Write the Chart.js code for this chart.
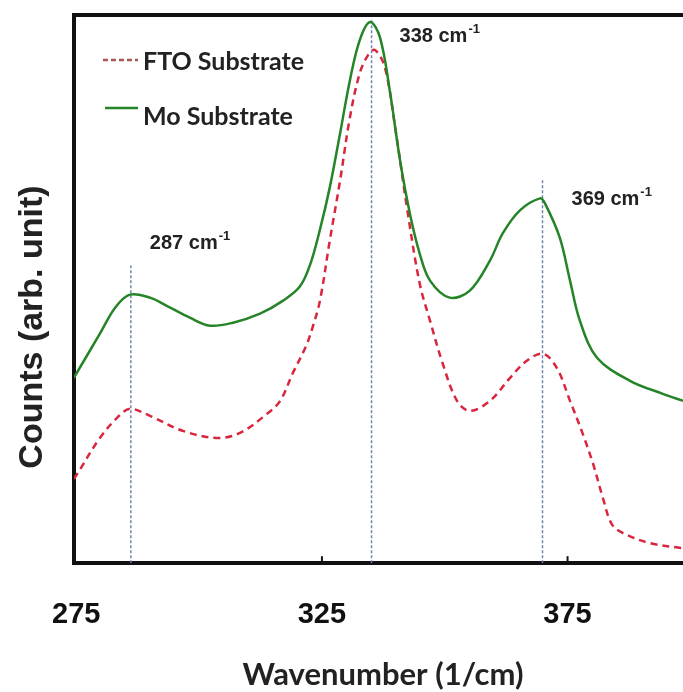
<!DOCTYPE html>
<html>
<head>
<meta charset="utf-8">
<script src="https://cdn.jsdelivr.net/npm/chart.js@4.4.1/dist/chart.umd.min.js"></script>
<style>
  html, body { margin: 0; padding: 0; background: #fff; }
  #wrap { width: 683px; height: 692px; position: relative; }
</style>
</head>
<body>
<div id="wrap"><canvas id="ramanChart"></canvas></div>
<script>
// Raman spectra, values (counts in arb. units)
const moWave = [274.5, 279.8, 282.9, 285.9, 290.0, 294.1, 298.1, 302.2, 306.9, 312.4, 317.1, 320.5, 322.6, 324.6, 326.6, 328.7, 330.7, 332.7, 334.8, 336.8, 338.8, 340.9, 342.9, 344.9, 347.0, 351.0, 355.1, 359.2, 361.8, 365.3, 369.4, 370.4, 373.4, 375.5, 377.5, 381.0, 387.7, 394.4, 398.5];
const moCounts = [185, 229, 255, 268, 265, 255, 245, 237, 240, 249, 262, 276, 298, 333, 375, 429, 482, 522, 540, 525, 472, 402, 349, 309, 282, 265, 272, 302, 329, 352, 364, 359, 325, 282, 242, 205, 182, 169, 162];

const ftoWave = [274.5, 275.3, 279.8, 283.3, 285.9, 290.0, 296.7, 303.6, 308.3, 313.8, 316.5, 319.1, 321.8, 323.2, 324.6, 326.6, 328.7, 330.7, 332.7, 334.4, 335.8, 337.8, 339.9, 342.3, 344.9, 347.0, 349.6, 352.5, 355.1, 359.2, 363.3, 366.7, 370.0, 372.8, 375.5, 378.1, 380.2, 382.2, 384.0, 386.3, 391.8, 398.5];
const ftoCounts = [84, 90, 125, 145, 154, 147, 132, 125, 130, 149, 162, 190, 217, 237, 262, 322, 382, 445, 489, 507, 512, 495, 435, 355, 279, 242, 199, 162, 152, 162, 185, 202, 209, 195, 162, 129, 99, 65, 39, 30, 20, 15];

// peak markers
const peakWave = [286.1, 335.1, 369.9];
const peakTop = [297, 544, 384];
const peakLabels = ['287 cm', '338 cm', '369 cm'];

const xTicks = [275, 325, 375];
const seriesNames = ['FTO Substrate', 'Mo Substrate'];

const redColor = 'rgb(215,38,62)';
const greenColor = 'rgb(38,132,40)';
const peakColor = 'rgba(105,128,168,0.95)';

function toPoints(xs, ys) {
    return xs.map((v, i) => ({x: v, y: ys[i]}));
}

let datasets = [
    {
        label: seriesNames[1],
        data: toPoints(moWave, moCounts),
        borderColor: greenColor,
        borderWidth: 2.5,
        pointRadius: 0,
        tension: 0.35
    },
    {
        label: seriesNames[0],
        data: toPoints(ftoWave, ftoCounts),
        borderColor: redColor,
        borderWidth: 2.5,
        borderDash: [7, 5],
        pointRadius: 0,
        tension: 0.35
    }
];
peakWave.forEach((w, i) => {
    datasets.push({
        label: 'peak' + i,
        data: [{x: w, y: 0}, {x: w, y: peakTop[i]}],
        borderColor: peakColor,
        borderWidth: 1.5,
        borderDash: [3, 2],
        pointRadius: 0
    });
});

// labels, legend, frame top and axis titles drawn on top of the chart
const labelShift = [[19, -17], [28, 24], [29, 27]];
const decorPlugin = {
    id: 'decor',
    afterDraw(chart) {
        const {ctx, chartArea, scales} = chart;
        const xs = scales.x, ys = scales.y;
        ctx.save();

        ctx.strokeStyle = '#111';
        ctx.lineWidth = 4;
        ctx.beginPath();
        ctx.moveTo(chartArea.left - 2, chartArea.top);
        ctx.lineTo(chartArea.right, chartArea.top);
        ctx.stroke();

        ctx.lineWidth = 2;
        xTicks.slice(1).forEach(v => {
            const px = xs.getPixelForValue(v);
            ctx.beginPath();
            ctx.moveTo(px, chartArea.bottom);
            ctx.lineTo(px, chartArea.bottom - 7);
            ctx.stroke();
        });

        // peak labels
        ctx.fillStyle = '#222';
        ctx.textBaseline = 'alphabetic';
        ctx.textAlign = 'left';
        peakLabels.forEach((t, i) => {
            const px = xs.getPixelForValue(peakWave[i]) + labelShift[i][0];
            const py = ys.getPixelForValue(peakTop[i]) + labelShift[i][1];
            ctx.font = 'bold 20px "Liberation Sans", Arial, sans-serif';
            ctx.fillText(t, px, py);
            const w = ctx.measureText(t).width;
            ctx.font = 'bold 13px "Liberation Sans", Arial, sans-serif';
            ctx.fillText('-1', px + w + 1, py - 9);
        });

        // legend
        ctx.lineWidth = 2.5;
        ctx.strokeStyle = 'rgb(175,85,85)';
        ctx.setLineDash([5, 3]);
        ctx.beginPath(); ctx.moveTo(103, 60); ctx.lineTo(138, 60); ctx.stroke();
        ctx.setLineDash([]);
        ctx.strokeStyle = greenColor;
        ctx.beginPath(); ctx.moveTo(105, 108); ctx.lineTo(138, 108); ctx.stroke();
        ctx.font = 'bold 25px Lato, sans-serif';
        ctx.fillStyle = '#222';
        ctx.fillText(seriesNames[0], 143, 70);
        ctx.fillText(seriesNames[1], 143, 125);

        // axis titles
        ctx.textAlign = 'center';
        ctx.font = 'bold 31px Lato, sans-serif';
        ctx.fillText('Wavenumber (1/cm)', 383, 685);

        ctx.translate(42, 327);
        ctx.rotate(-Math.PI / 2);
        ctx.font = 'bold 34px "Liberation Sans", Arial, sans-serif';
        ctx.fillText('Counts (arb. unit)', 0, 0);

        ctx.restore();
    }
};

const config = {
    type: 'line',
    data: {datasets: datasets},
    options: {
        responsive: true,
        maintainAspectRatio: false,
        animation: false,
        events: [],
        layout: {padding: {left: 74, top: 15, right: 0, bottom: 26}},
        plugins: {
            legend: {display: false},
            tooltip: {enabled: false}
        },
        scales: {
            x: {
                type: 'linear',
                min: 274.53,
                max: 398.5,
                grid: {display: false, drawTicks: false},
                border: {display: true, color: '#111', width: 4},
                afterBuildTicks: axis => { axis.ticks = xTicks.map(v => ({value: v})); },
                ticks: {
                    padding: 34,
                    color: '#111',
                    font: {family: '"Liberation Sans", Arial, sans-serif', size: 29, weight: 'bold'},
                    maxRotation: 0
                }
            },
            y: {
                min: 0,
                max: 547,
                grid: {display: false, drawTicks: false},
                border: {display: true, color: '#111', width: 4},
                ticks: {display: false}
            }
        }
    },
    plugins: [decorPlugin]
};

new Chart(document.getElementById('ramanChart'), config);
</script>
</body>
</html>
